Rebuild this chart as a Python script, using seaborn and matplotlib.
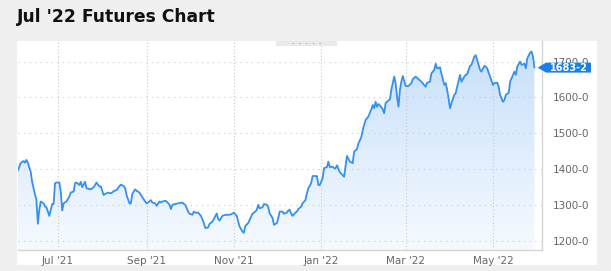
import numpy as np
import pandas as pd
import matplotlib
matplotlib.use("Agg")
import matplotlib.pyplot as plt
import matplotlib.dates as mdates
from matplotlib.colors import LinearSegmentedColormap
from matplotlib.patches import Rectangle, Polygon
import seaborn as sns

# ---------------- data ----------------
title_text = "Jul '22 Futures Chart"
base_date = "2021-07-01"
day_offsets = [
    -28, -26, -24, -23, -22, -21, -19, -18, -17, -15, -14, -13, -12, -10, -9, -8, -6, -4, -3, -2, -1,
    1, 2, 3, 4, 6, 8, 9, 11, 12, 13, 15, 16, 17, 19, 20, 23, 25,
    26, 27, 29, 30, 32, 33, 35, 37, 38, 39, 41, 43, 44, 46, 47, 48, 50, 51, 52, 54, 55, 57, 58, 59,
    61, 62, 64, 65, 66, 68, 69, 71, 72, 73, 75, 76, 78, 79, 80,
    82, 84, 87, 88, 89, 91, 92, 94, 95, 96, 98, 100, 102, 103, 105, 106, 108, 109, 111, 112, 113,
    115, 117, 119, 121, 123, 125, 126, 127, 129, 130, 131, 133, 134, 136,
    138, 139, 140, 141, 143, 144, 146, 147, 148, 150, 151, 153, 154, 155, 157, 158, 160, 161, 162,
    163, 164, 166, 167, 168, 170, 171, 173, 174, 175, 177, 178, 179, 181, 182, 183, 185, 186, 188,
    189, 190, 192, 193,
    194, 195, 197, 200, 202, 204, 206, 207, 209, 210, 212,
    213, 215, 216, 217, 219, 220, 221, 222, 223, 224, 226, 227, 228, 229, 230, 232, 233, 234, 235,
    236, 237, 238, 239, 240, 241, 243, 244, 245, 247, 248,
    250, 252, 254, 257, 258, 260, 261, 263, 264, 265, 267, 268, 270, 271, 272, 273, 274, 275, 277,
    278, 279, 281, 282, 284, 285, 286, 288, 289, 291, 292, 294, 295, 296, 298, 299, 300, 302, 304,
    305, 307, 308, 309, 311, 312, 313, 315, 316, 317, 319, 320, 321, 323, 324, 326, 327, 328, 330,
    331, 332, 333,
]
prices = [
    1396, 1417, 1423, 1418, 1426, 1418, 1393, 1365, 1347, 1314, 1248, 1287, 1310, 1305, 1296, 1294, 1270, 1303, 1303, 1361, 1363,
    1363, 1338, 1285, 1305, 1310, 1324, 1335, 1338, 1361, 1363, 1356, 1365, 1350, 1365, 1347, 1344, 1350,
    1356, 1363, 1352, 1352, 1328, 1331, 1335, 1333, 1335, 1339, 1342, 1353, 1357, 1353, 1347, 1328, 1305, 1305, 1331, 1344, 1340, 1335, 1328, 1322,
    1310, 1305, 1310, 1314, 1307, 1305, 1298, 1310, 1307, 1310, 1312, 1310, 1301, 1289, 1301,
    1303, 1305, 1307, 1303, 1301, 1282, 1276, 1273, 1282, 1279, 1279, 1270, 1250, 1236, 1238, 1248, 1254, 1261, 1277, 1261, 1257,
    1270, 1273, 1273, 1274, 1279, 1270, 1254, 1240, 1226, 1223, 1242, 1250, 1259, 1276,
    1282, 1287, 1301, 1291, 1294, 1303, 1301, 1294, 1277, 1264, 1245, 1250, 1264, 1282, 1282, 1276, 1279, 1285, 1287,
    1276, 1270, 1279, 1282, 1289, 1296, 1305, 1314, 1333, 1347, 1361, 1381, 1381, 1381, 1356, 1356, 1375, 1403, 1406,
    1421, 1406, 1407, 1403,
    1402, 1411, 1392, 1379, 1437, 1421, 1417, 1449, 1456, 1472, 1489,
    1509, 1537, 1542, 1547, 1567, 1579, 1570, 1588, 1574, 1582, 1573, 1567, 1556, 1584, 1588, 1595, 1621, 1640, 1658,
    1640, 1602, 1574, 1621, 1644, 1660, 1632, 1632, 1632, 1640, 1651,
    1658, 1651, 1644, 1630, 1641, 1644, 1667, 1677, 1694, 1681, 1684, 1667, 1635, 1640, 1621, 1598, 1570, 1584, 1607,
    1612, 1630, 1663, 1644, 1658, 1663, 1665, 1688, 1691, 1714, 1718, 1691, 1677, 1672, 1688, 1686, 1681, 1658, 1635,
    1640, 1641, 1630, 1607, 1588, 1593, 1607, 1613, 1644, 1653, 1672, 1663, 1686, 1700, 1691, 1694, 1681, 1709, 1725,
    1728, 1714, 1683.25,
]
last_price_label = "1683-2"
y_ticks = [1200, 1300, 1400, 1500, 1600, 1700]
y_tick_labels = ["1200-0", "1300-0", "1400-0", "1500-0", "1600-0", "1700-0"]
x_tick_dates = ["2021-07-01", "2021-09-01", "2021-11-01", "2022-01-01", "2022-03-01", "2022-05-01"]
x_tick_labels = ["Jul '21", "Sep '21", "Nov '21", "Jan '22", "Mar '22", "May '22"]

# ---------------- styling ----------------
W, H = 611, 271
BG = "#efefef"
LINE = "#3590f2"
GRID = "#c9c9c9"
TXT = "#666666"
TAG = "#1b7fe9"

sns.set_theme(style="white")
plt.rcParams["font.family"] = ["DejaVu Sans"]

df = pd.DataFrame({
    "date": pd.Timestamp(base_date) + pd.to_timedelta(day_offsets, unit="D"),
    "price": prices,
})

fig = plt.figure(figsize=(W / 100, H / 100), dpi=100)
fig.patch.set_facecolor(BG)

# white panel
fig.add_artist(Rectangle((17 / W, 1 - 265 / H), 580 / W, 224 / H,
                         transform=fig.transFigure, facecolor="white",
                         edgecolor="none", zorder=0))

ax = fig.add_axes([18 / W, 1 - 250 / H, (541.5 - 18) / W, (250 - 41) / H])
ax.set_facecolor("none")

x0 = pd.Timestamp(base_date) - pd.Timedelta(days=27.87)
x1 = pd.Timestamp(base_date) + pd.Timedelta(days=337.94)
ymin, ymax = 1174.9, 1757.4

# gradient area
xnum = mdates.date2num(df["date"])
poly = ax.fill_between(xnum, df["price"], ymin, facecolor="none", edgecolor="none")
clip_path = poly.get_paths()[0]
cmap = LinearSegmentedColormap.from_list("g", ["#f6faff", "#c8e0fa"])
grad = np.linspace(0, 1, 256).reshape(-1, 1)
im = ax.imshow(grad, extent=[mdates.date2num(x0), mdates.date2num(x1), ymin, df["price"].max()],
               aspect="auto", cmap=cmap, origin="lower", zorder=1)
im.set_clip_path(clip_path, transform=ax.transData)

sns.lineplot(x=xnum, y=df["price"].to_numpy(), ax=ax, color=LINE, linewidth=1.3, zorder=3)

ax.set_xlim(mdates.date2num(x0), mdates.date2num(x1))
ax.set_ylim(ymin, ymax)

# grid & axes
tick_nums = mdates.date2num(pd.to_datetime(x_tick_dates))
ax.set_yticks(y_ticks)
ax.set_yticklabels(y_tick_labels)
ax.set_xticks(tick_nums)
ax.set_xticklabels(x_tick_labels)
ax.yaxis.tick_right()
ax.grid(False)
for yv in y_ticks:
    ax.axhline(yv, color=GRID, lw=0.8, ls=(0, (1, 4)), zorder=2)
for xv in tick_nums:
    ax.axvline(xv, color=GRID, lw=0.8, ls=(0, (1, 2)), zorder=2)

for s in ["left", "top"]:
    ax.spines[s].set_visible(False)
for s in ["bottom", "right"]:
    ax.spines[s].set_color("#d4d4d4")
    ax.spines[s].set_linewidth(1.0)
ax.tick_params(axis="y", length=0, pad=8, labelsize=7.5, labelcolor=TXT)
ax.tick_params(axis="x", length=2, color="#d4d4d4", pad=2, labelsize=7.5, labelcolor=TXT)
ax.set_xlabel("")
ax.set_ylabel("")

# title
fig.text(17 / W, 1 - 17.5 / H, title_text, fontsize=12.3, fontweight="bold",
         color="#111111", ha="left", va="center", family=["DejaVu Sans"])

# navigator tab
fig.add_artist(Rectangle((276 / W, 1 - 46 / H), 61 / W, 5 / H, transform=fig.transFigure,
                         facecolor="#e9e9e9", edgecolor="none", zorder=5))
fig.text(306.5 / W, 1 - 42.5 / H, ".  .  .  .  .", fontsize=5, color="#666666",
         ha="center", va="center", zorder=6)

# last price tag
to_fig = ax.transData + fig.transFigure.inverted()
_, yc = to_fig.transform((xnum[-1], prices[-1]))
hh = 5 / H
tip = 537.7 / W
bx0, bx1 = 546 / W, 591 / W
fig.add_artist(Polygon([(tip, yc), (bx0, yc + hh), (bx1, yc + hh), (bx1, yc - hh), (bx0, yc - hh)],
                       closed=True, transform=fig.transFigure, facecolor=TAG,
                       edgecolor="none", zorder=7))
fig.text((bx0 + bx1) / 2, yc, last_price_label, fontsize=7, fontweight="bold",
         color="white", ha="center", va="center", zorder=8)

fig.savefig("out.png", dpi=100, facecolor=BG)
